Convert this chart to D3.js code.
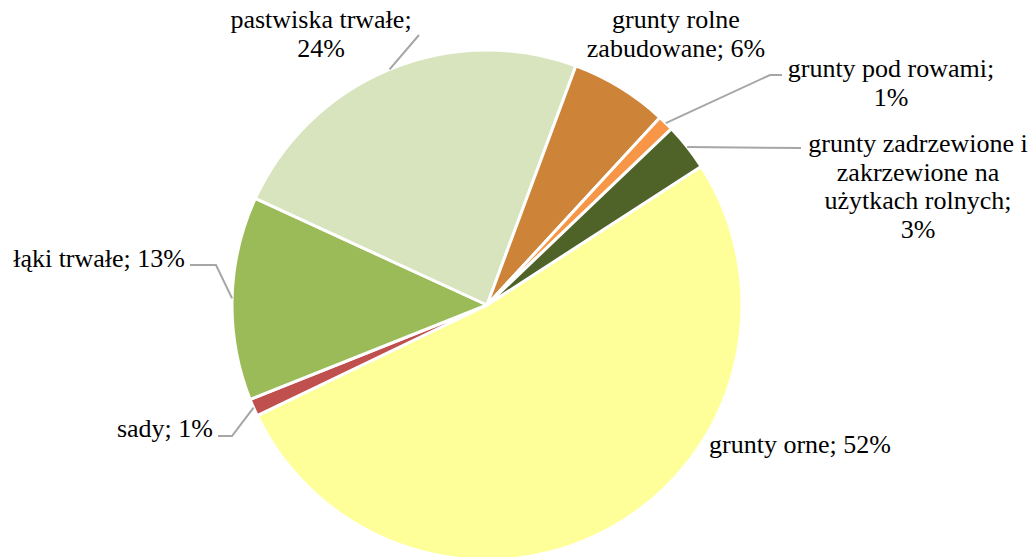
<!DOCTYPE html>
<html>
<head>
<meta charset="utf-8">
<script src="https://cdn.jsdelivr.net/npm/d3@7"></script>
<style>
  body { margin: 0; background: #fff; }
  svg text { font-family: "Liberation Serif", "Times New Roman", serif; font-size: 26px; fill: #000; }
</style>
</head>
<body>
<div id="chart"></div>
<script>
// data, clockwise starting from "grunty orne"
const categories = [
    "grunty orne",
    "sady",
    "łąki trwałe",
    "pastwiska trwałe",
    "grunty rolne zabudowane",
    "grunty pod rowami",
    "grunty zadrzewione i zakrzewione na użytkach rolnych"
];
const shares = [52.0, 1.1, 12.9, 23.8, 6.2, 1.0, 3.0];
const colors = ["#FFFF99", "#C0504D", "#9BBB59", "#D7E4BD", "#CD8439", "#F79646", "#4F6228"];

// label layout: text lines, anchor, text position, leader path points (after the arc point)
const labelLayout = [
    { lines: ["grunty orne; 52%"], x: 709, y: 453, anchor: "start", leader: null },
    { lines: ["sady; 1%"], x: 213, y: 437, anchor: "end", leader: [[232, 436], [218, 436]] },
    { lines: ["łąki trwałe; 13%"], x: 185, y: 267, anchor: "end", leader: [[216, 265], [190, 265]] },
    { lines: ["pastwiska trwałe;", "24%"], x: 321, y: 28, anchor: "middle", leader: [[419, 35]] },
    { lines: ["grunty rolne", "zabudowane; 6%"], x: 676, y: 28, anchor: "middle", leader: null },
    { lines: ["grunty pod rowami;", "1%"], x: 891, y: 77, anchor: "middle", leader: [[770, 75], [782, 75]] },
    { lines: ["grunty zadrzewione i", "zakrzewione na", "użytkach rolnych;", "3%"], x: 918, y: 152, anchor: "middle", leader: [[801, 148]] }
];

const W = 1034, H = 557;
const cx = 487, cy = 305, R = 255;
const startDeg = 57.1;
const lineH = 28.5;

const svg = d3.select("#chart").append("svg")
    .attr("width", W)
    .attr("height", H);

const g = svg.append("g").attr("transform", `translate(${cx},${cy})`);

const pie = d3.pie()
    .sort(null)
    .value(d => d.value)
    .startAngle(startDeg * Math.PI / 180)
    .endAngle(startDeg * Math.PI / 180 + 2 * Math.PI);

const slices = pie(categories.map((c, i) => ({ name: c, value: shares[i], i })));

const arc = d3.arc().innerRadius(0).outerRadius(R);

g.selectAll("path.slice")
    .data(slices)
    .join("path")
    .attr("class", "slice")
    .attr("d", arc)
    .attr("fill", d => colors[d.data.i])
    .attr("stroke", "#fff")
    .attr("stroke-width", 3)
    .attr("stroke-linejoin", "round");

// leader lines
slices.forEach(d => {
    const lay = labelLayout[d.data.i];
    if (!lay.leader) return;
    const mid = (d.startAngle + d.endAngle) / 2;
    const p0 = [cx + R * Math.sin(mid), cy - R * Math.cos(mid)];
    svg.append("path")
        .attr("d", d3.line()([p0, ...lay.leader]))
        .attr("fill", "none")
        .attr("stroke", "#A6A6A6")
        .attr("stroke-width", 2);
});

// labels
slices.forEach(d => {
    const lay = labelLayout[d.data.i];
    const t = svg.append("text")
        .attr("x", lay.x)
        .attr("y", lay.y)
        .attr("text-anchor", lay.anchor);
    lay.lines.forEach((ln, k) => {
        t.append("tspan")
            .attr("x", lay.x)
            .attr("y", lay.y + k * lineH)
            .text(ln);
    });
});
</script>
</body>
</html>
